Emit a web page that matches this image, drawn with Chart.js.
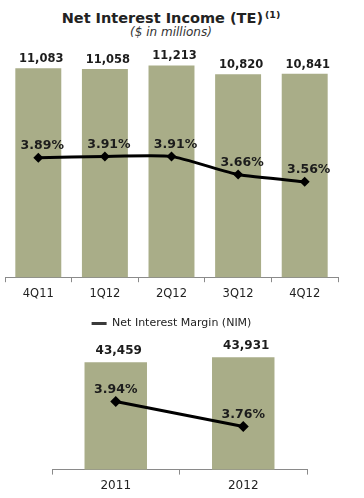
<!DOCTYPE html>
<html>
<head>
<meta charset="utf-8">
<script src="https://cdn.jsdelivr.net/npm/chart.js@4"></script>
<style>
  body { margin: 0; background: #fff; width: 364px; height: 498px; overflow: hidden; position: relative; font-family: "DejaVu Sans", sans-serif; color: #222; }
  #title { position: absolute; left: 0; top: 9px; width: 342px; text-align: center; font-weight: bold; font-size: 14.5px; }
  #title sup { font-size: 9.5px; vertical-align: 5px; margin-left: 2px; }
  #subtitle { position: absolute; left: 0; top: 25px; width: 342px; text-align: center; font-style: italic; font-size: 12px; color: #333; }
  .box { position: absolute; left: 0; width: 364px; }
</style>
</head>
<body>
<div id="title">Net Interest Income (TE)<sup>(1)</sup></div>
<div id="subtitle">($ in millions)</div>
<div class="box" style="top:40px;height:302px"><canvas id="quarterChart"></canvas></div>
<div class="box" style="top:335px;height:163px"><canvas id="yearChart"></canvas></div>
<script>
// quarterly data
var quarters = ['4Q11', '1Q12', '2Q12', '3Q12', '4Q12'];
var quarterNII = [11083, 11058, 11213, 10820, 10841];
var quarterNIM = [3.89, 3.91, 3.91, 3.66, 3.56];

// full year data
var years = ['2011', '2012'];
var yearNII = [43459, 43931];
var yearNIM = [3.94, 3.76];

var barColor = '#a9ad88';
var font = '"DejaVu Sans", sans-serif';

// draws the numbers above bars and next to the NIM points
var labelPlugin = {
  id: 'valueLabels',
  afterDatasetsDraw: function(chart, args, opts) {
    var ctx = chart.ctx;
    ctx.save();
    ctx.textAlign = 'center';
    ctx.textBaseline = 'middle';
    ctx.fillStyle = '#1c1c1c';
    chart.data.datasets.forEach(function(ds, di) {
      var meta = chart.getDatasetMeta(di);
      meta.data.forEach(function(el, i) {
        var v = ds.data[i];
        if (ds.type === 'line') {
          ctx.font = 'bold ' + opts.pctSize + 'px ' + font;
          ctx.fillText(v.toFixed(2) + '%', el.x + opts.pctDx, el.y + opts.pctDy);
        } else {
          ctx.font = 'bold ' + opts.barSize + 'px ' + font;
          ctx.fillText(v.toLocaleString('en-US'), el.x + 3, el.y - opts.barGap);
        }
      });
    });
    ctx.restore();
  }
};

function makeChart(id, labels, nii, nim, cfg) {
  var ctx = document.getElementById(id).getContext('2d');
  return new Chart(ctx, {
    type: 'bar',
    data: {
      labels: labels,
      datasets: [{
        type: 'line',
        label: 'Net Interest Margin (NIM)',
        data: nim,
        yAxisID: 'y2',
        borderColor: '#000',
        backgroundColor: '#000',
        borderWidth: 3,
        tension: 0.15,
        pointStyle: 'rectRot',
        pointRadius: cfg.pointRadius,
        pointBackgroundColor: '#000',
        pointBorderWidth: 0,
        order: 0
      }, {
        label: 'Net Interest Income',
        data: nii,
        yAxisID: 'y',
        backgroundColor: barColor,
        categoryPercentage: 1,
        barPercentage: cfg.barPct,
        order: 1
      }]
    },
    options: {
      responsive: true,
      maintainAspectRatio: false,
      animation: false,
      layout: { padding: cfg.padding },
      scales: {
        x: {
          grid: { offset: true, drawOnChartArea: false, tickLength: 5, color: '#8a8a8a' },
          border: { color: '#8a8a8a' },
          ticks: { color: '#222', padding: cfg.tickPad, font: { family: font, size: cfg.tickSize } }
        },
        y: { display: false, min: cfg.yMin, max: cfg.yMax },
        y2: { display: false, min: cfg.y2Min, max: cfg.y2Max }
      },
      plugins: {
        legend: {
          display: cfg.legend,
          position: 'bottom',
          labels: {
            usePointStyle: true,
            pointStyleWidth: 15,
            padding: 12,
            color: '#222',
            font: { family: font, size: 11 },
            // only the NIM line goes in the legend, drawn as a short thick dash
            generateLabels: function(chart) {
              var items = Chart.defaults.plugins.legend.labels.generateLabels(chart);
              return items.filter(function(it) { return it.datasetIndex === 0; }).map(function(it) {
                it.pointStyle = 'line';
                it.lineWidth = 3;
                it.strokeStyle = '#3a3a3a';
                return it;
              });
            }
          }
        },
        tooltip: { enabled: false },
        valueLabels: cfg.labels
      }
    },
    plugins: [labelPlugin]
  });
}

makeChart('quarterChart', quarters, quarterNII, quarterNIM, {
  padding: { left: 5, right: 26, top: 5, bottom: 3 },
  barPct: 0.69,
  pointRadius: 5,
  tickPad: 5,
  tickSize: 11.5,
  yMin: 1800, yMax: 12120,
  y2Min: 2.247, y2Max: 5.443,
  legend: true,
  labels: { barSize: 11.5, barGap: 9, pctSize: 12.5, pctDx: 4, pctDy: -12 }
});

makeChart('yearChart', years, yearNII, yearNIM, {
  padding: { left: 52, right: 57, top: 5, bottom: 1 },
  barPct: 0.49,
  pointRadius: 5.5,
  tickPad: 4,
  tickSize: 12,
  yMin: 33330, yMax: 45510,
  y2Min: 3.45, y2Max: 4.379,
  legend: false,
  labels: { barSize: 12, barGap: 11, pctSize: 12.5, pctDx: 0, pctDy: -12 }
});
</script>
</body>
</html>
